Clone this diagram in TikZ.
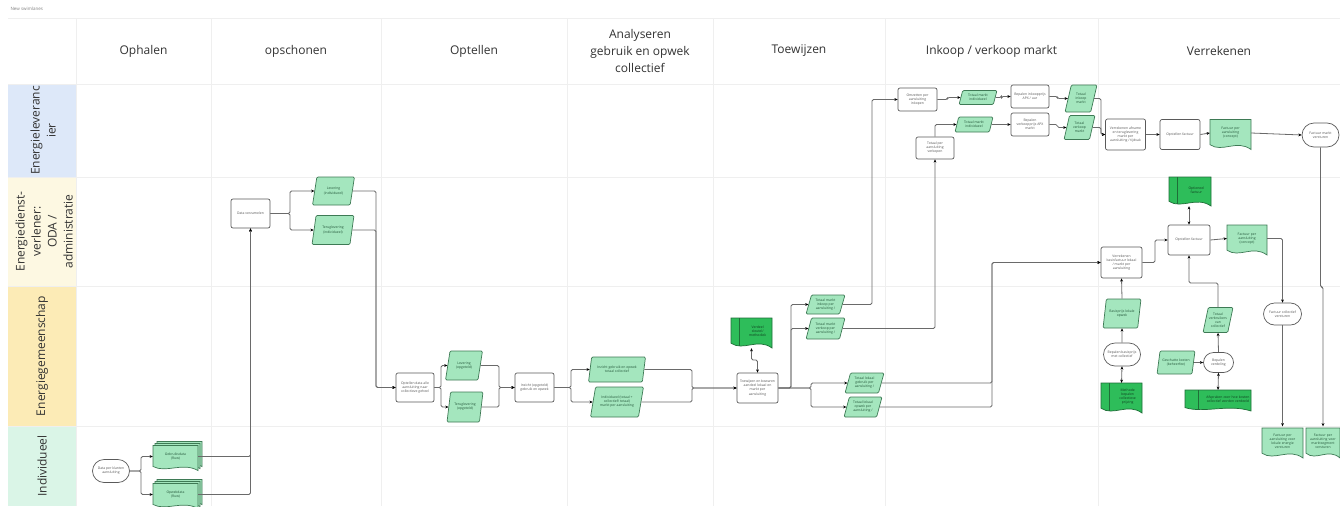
\documentclass[tikz,border=0pt]{standalone}
\usepackage{fontspec}
\setmainfont{Open Sans}
\usetikzlibrary{shapes.geometric,shapes.misc,arrows.meta,calc}
\definecolor{gridc}{HTML}{EFEFEF}
\definecolor{laneA}{HTML}{DDE8F9}
\definecolor{laneB}{HTML}{FDF8E2}
\definecolor{laneC}{HTML}{FCEBB6}
\definecolor{laneD}{HTML}{DAF5E7}
\definecolor{lgreen}{HTML}{A4E6BE}
\definecolor{lgreenD}{HTML}{3E7A55}
\definecolor{dgreen}{HTML}{2EBD5A}
\definecolor{dgreenD}{HTML}{1F6E38}
\definecolor{boxD}{HTML}{5A5A5A}
\definecolor{lineC}{HTML}{6A6A6A}
\definecolor{txtC}{HTML}{555555}
\definecolor{gtxt}{HTML}{24573A}
\definecolor{dtxt}{HTML}{0F3D1E}

\tikzset{
 every node/.style={font=\fontsize{3.4}{4.1}\selectfont},
 >={Stealth[length=3.2pt,width=2.8pt,color=black]},
 hdr/.style={font=\fontsize{12}{17}\selectfont, text=black!80, align=center},
 lanelbl/.style={font=\fontsize{12}{16}\selectfont, text=black!80, align=center, rotate=90},
 proc/.style={draw=boxD, fill=white, rounded corners=2pt, line width=0.7pt, align=center, text=txtC, inner sep=0.5pt},
 term/.style={rounded rectangle, draw=boxD, fill=white, line width=0.7pt, align=center, text=txtC, inner sep=0.5pt},
 para/.style={trapezium, trapezium left angle=72, trapezium right angle=108, trapezium stretches=true, draw=lgreenD, fill=lgreen, line width=0.7pt, rounded corners=1.2pt, align=center, text=gtxt, inner sep=0.5pt},
 doctext/.style={align=center, inner sep=0.5pt},
 lightdoc/.style={draw=lgreenD, fill=lgreen, line width=0.7pt},
 darkdoc/.style={draw=dgreenD, fill=dgreen, line width=0.7pt},
 conn/.style={draw=lineC, line width=0.8pt, rounded corners=1.5pt, ->},
 conntwo/.style={draw=lineC, line width=0.8pt, rounded corners=1.5pt, <->},
 gridline/.style={draw=gridc, line width=0.6pt},
}

% document outline centred at origin: w, h, style
\newcommand\docpath[3]{%
 \draw[#3] (-#1/2,-#2/2) -- (#1/2,-#2/2) -- (#1/2,#2/2)
   .. controls (0.15*#1,#2/2-0.35*#2) and (-0.2*#1,#2/2+0.12*#2) .. (-#1/2,#2/2-0.16*#2) -- cycle;}
% name, cx, cy, w, h, text
\newcommand\lightdocnode[6]{%
 \begin{scope}[shift={(#2,#3)}]\docpath{#4}{#5}{lightdoc}\end{scope}
 \pgfmathsetmacro\tw{#4-5}%
 \node[doctext, text=gtxt, text width=\tw pt, minimum width=#4, minimum height=#5] (#1) at (#2,#3-1.5) {#6};}
\newcommand\darkdocnode[6]{%
 \begin{scope}[shift={(#2,#3)}]\docpath{#4}{#5}{darkdoc}
  \draw[dgreenD, line width=0.7pt] (-0.3*#4,-#5/2) -- (-0.3*#4,0.42*#5);\end{scope}
 \pgfmathsetmacro\tw{0.7*#4-2}%
 \pgfmathsetmacro\cxx{#2+0.15*#4}%
 \node[doctext, text=dtxt, text width=\tw pt] (#1t) at (\cxx,#3-1.5) {#6};
 \node[minimum width=#4, minimum height=#5, inner sep=0pt] (#1) at (#2,#3) {};
 }
\newcommand\stackdocnode[6]{%
 \begin{scope}[shift={(#2+4,#3-4)}]\docpath{#4}{#5}{lightdoc}\end{scope}
 \begin{scope}[shift={(#2+2,#3-2)}]\docpath{#4}{#5}{lightdoc}\end{scope}
 \begin{scope}[shift={(#2,#3)}]\docpath{#4}{#5}{lightdoc}\end{scope}
 \pgfmathsetmacro\tw{#4-5}%
 \node[doctext, text=gtxt, text width=\tw pt, minimum width=#4, minimum height=#5] (#1) at (#2,#3-1.5) {#6};}

\begin{document}
\begin{tikzpicture}[x=1pt,y=-1pt]
\useasboundingbox[fill=white] (0,0) rectangle (1340,506);

% lane label fills
\fill[laneA] (8,84) rectangle (76,177);
\fill[laneB] (8,177) rectangle (76,286);
\fill[laneC] (8,286) rectangle (76,426);
\fill[laneD] (8,426) rectangle (76,506);

% grid
\foreach \yy in {18,84,177,286,426} \draw[gridline] (8,\yy) -- (1340,\yy);
\foreach \xx in {76,211,381,567,713,885,1098} \draw[gridline] (\xx,18) -- (\xx,506);

\node[anchor=west, font=\fontsize{4.5}{5}\selectfont, text=gray] (title) at (7,9) {New swimlanes};

% headers
\node[hdr] (h1) at (143.5,51) {Ophalen};
\node[hdr] (h2) at (296,51) {opschonen};
\node[hdr] (h3) at (474,51) {Optellen};
\node[hdr] (h4) at (640,51) {Analyseren\\gebruik en opwek\\collectief};
\node[hdr] (h5) at (799,51) {Toewijzen};
\node[hdr] (h6) at (991.5,51) {Inkoop / verkoop markt};
\node[hdr] (h7) at (1219,51) {Verrekenen};

% lane labels
\node[lanelbl] (L1) at (43,130.5) {Energieleveranc\\ier};
\node[lanelbl] (L2) at (44,231.5) {Energiedienst-\\verlener:\\ODA /\\administratie};
\node[lanelbl] (L3) at (42,356) {Energiegemeenschap};
\node[lanelbl] (L4) at (42,466) {Individueel};

% Individueel
\node[term, minimum width=38, minimum height=23] (start) at (111,471) {Data per klanten\\aansluiting};
\stackdocnode{stk1}{175.5}{458}{45}{25}{Gebruiksdata\\(Ruw)}
\stackdocnode{stk2}{175.5}{496}{45}{25}{Opwekdata\\(Ruw)}

% opschonen
\node[proc, minimum width=39, minimum height=29] (verz) at (250.5,213.5) {Data verzamelen};
\node[para, minimum width=42, minimum height=28] (levi) at (333.5,191) {Levering\\(individueel)};
\node[para, minimum width=42, minimum height=29] (teri) at (333,230) {Teruglevering\\(individueel)};

% Optellen
\node[proc, minimum width=38, minimum height=29] (opt) at (415,387.5) {Optellen data alle\\aansluiting naar\\collectieve geheel};
\node[para, minimum width=37, minimum height=29] (levo) at (464,365.5) {Levering\\(opgeteld)};
\node[para, minimum width=36, minimum height=30] (tero) at (465,407) {Teruglevering\\(opgeteld)};
\node[proc, minimum width=39, minimum height=29] (inz) at (534.5,387.5) {Inzicht (opgeteld)\\gebruik en opwek};

% Analyseren
\node[para, minimum width=57, minimum height=25] (inzc) at (617,369.5) {Inzicht gebruik en opwek\\totaal collectief};
\node[para, minimum width=53, minimum height=30] (indt) at (617,402) {Individueel (totaal +\\collectief/ totaal)\\markt per aansluiting};

% Toewijzen
\node[proc, minimum width=41, minimum height=30] (toew) at (757.5,388) {Toewijzen en bewaren\\aandeel lokaal en\\markt per\\aansluiting};
\darkdocnode{verd}{751.5}{333}{41}{30}{Verdeel\\sleutel/\\methodiek}
\node[para, minimum width=39, minimum height=19] (mki) at (825.5,304.5) {Totaal markt\\inkoop per\\aansluiting /};
\node[para, minimum width=39, minimum height=21] (mkv) at (825.5,328.5) {Totaal markt\\verkoop per\\aansluiting /};
\node[para, minimum width=39, minimum height=20] (lkg) at (864.5,383) {Totaal lokaal\\gebruik per\\aansluiting /};
\node[para, minimum width=38, minimum height=20] (lko) at (863,407) {Totaal lokaal\\opwek per\\aansluiting /};

% Inkoop / verkoop
\node[proc, minimum width=39, minimum height=23] (ovzi) at (917.5,99.5) {Omzetten per\\aansluiting\\inkopen};
\node[para, minimum width=38, minimum height=14] (mi1) at (978,97.5) {Totaal markt\\individueel};
\node[proc, minimum width=38, minimum height=23] (bepi) at (1030,96.5) {Bepalen inkoopprijs\\APX / uur};
\node[para, minimum width=32, minimum height=27] (ti) at (1081,98.5) {Totaal\\inkoop\\markt};
\node[proc, minimum width=38, minimum height=22] (totv) at (935,148) {Totaal per\\aansluiting\\verkopen};
\node[para, minimum width=38, minimum height=15] (mi2) at (974,124.5) {Totaal markt\\individueel};
\node[proc, minimum width=38, minimum height=23] (bepv) at (1030,124.5) {Bepalen\\verkoopprijs APX\\markt};
\node[para, minimum width=31, minimum height=24] (tv) at (1079.5,127.5) {Totaal\\verkoop\\markt};

% Verrekenen
\node[proc, minimum width=40, minimum height=31] (verm) at (1125.5,134.5) {Verrekenen afname\\en teruglevering\\markt per\\aansluiting / tijdvak};
\node[proc, minimum width=40, minimum height=30] (ops1) at (1180,134.5) {Opstellen factuur};
\lightdocnode{fpa1}{1230.5}{134.5}{41}{30}{Factuur per\\aansluiting\\(concept)}
\node[term, minimum width=38, minimum height=24] (fmv) at (1320.5,135) {Factuur markt\\versturen};
\lightdocnode{fpam}{1323}{443}{34}{30}{Factuur per\\aansluiting voor\\marktsegment\\versturen}
\darkdocnode{optf}{1190}{191.5}{42}{29}{Optioneel\\factuur}
\node[proc, minimum width=42, minimum height=30] (ops2) at (1189,240) {Opstellen factuur};
\node[proc, minimum width=41, minimum height=31] (verl) at (1121.5,262.5) {Verrekenen\\basisfactuur lokaal\\/ markt per\\aansluiting};
\lightdocnode{fpa2}{1247}{240}{40}{30}{Factuur per\\aansluiting\\(concept)}
\node[term, minimum width=39, minimum height=22] (fcv) at (1282.5,314) {Factuur collectief\\versturen};
\lightdocnode{fpal}{1282.5}{443}{41}{30}{Factuur per\\aansluiting voor\\lokale energie\\versturen}
\node[para, minimum width=38, minimum height=29] (bp) at (1122,313.5) {Basisprijs lokale\\opwek};
\node[term, minimum width=38, minimum height=23] (bbc) at (1122,354.5) {Bepalen basisprijs\\met collectief};
\darkdocnode{mbp}{1121.5}{398}{41}{30}{Methode\\bepalen\\collectieve\\prijzing}
\node[para, minimum width=30, minimum height=25] (tvc) at (1218,320) {Totaal\\verbruikers\\van\\collectief};
\node[term, minimum width=31, minimum height=20] (bv) at (1218.5,362.5) {Bepalen\\verdeling};
\node[para, minimum width=38, minimum height=23] (gk) at (1176,362.5) {Geschatte kosten\\(beheerfee)};
\darkdocnode{afs}{1218}{400.5}{66}{21}{Afspraken over hoe kosten\\collectief worden verdeeld}

% bus coordinates
\coordinate (bA) at (141,0);
\coordinate (bB) at (290,0);
\coordinate (bC) at (376,0);
\coordinate (bD) at (441,0);
\coordinate (bE) at (499,0);
\coordinate (bF) at (571,0);
\coordinate (bG) at (692,0);
\coordinate (bH) at (0,360);
\coordinate (bI) at (791,0);
\coordinate (bJ) at (811,0);
\coordinate (bK) at (872,0);
\coordinate (bL) at (992,0);
\coordinate (bM) at (1101,0);
\coordinate (bN) at (0,287);
\coordinate (bO) at (1155,0);
\coordinate (bP) at (0,283);

% connectors
\draw[conn] (start.east) -- (start.east -| bA) |- (stk1.west);
\draw[conn] (start.east) -- (start.east -| bA) |- (stk2.west);
\draw[conn] (stk1.east) -| (verz.south);
\draw[conn] (stk2.east) -| (verz.south);
\draw[conn] (verz.east) -- (verz.east -| bB) |- (levi.west);
\draw[conn] (verz.east) -- (verz.east -| bB) |- (teri.west);
\draw[conn] (levi.east) -| (bC |- opt.west) -- (opt.west);
\draw[conn] (teri.east) -| (bC |- opt.west) -- (opt.west);
\draw[conn] (opt.east) -- (opt.east -| bD) |- (levo.west);
\draw[conn] (opt.east) -- (opt.east -| bD) |- (tero.west);
\draw[conn] (levo.east) -| (bE |- inz.west) -- (inz.west);
\draw[conn] (tero.east) -| (bE |- inz.west) -- (inz.west);
\draw[conn] (inz.east) -- (inz.east -| bF) |- (inzc.west);
\draw[conn] (inz.east) -- (inz.east -| bF) |- (indt.west);
\draw[conn] (inzc.east) -| (bG |- toew.west) -- (toew.west);
\draw[conn] (indt.east) -| (bG |- toew.west) -- (toew.west);
\draw[conntwo] (verd.south) -- (verd.south |- bH) -| (toew.north);
\draw[conn] (toew.east) -- (toew.east -| bI) |- (mki.west);
\draw[conn] (toew.east) -- (toew.east -| bI) |- (mkv.west);
\draw[conn] (toew.east) -- (toew.east -| bJ) |- (lkg.west);
\draw[conn] (toew.east) -- (toew.east -| bJ) |- (lko.west);
\draw[conn] (mki.east) -| (bK |- ovzi.west) -- (ovzi.west);
\draw[conn] (mkv.east) -| (totv.south);
\draw[conn] (lkg.east) -| (bL |- verl.west) -- (verl.west);
\draw[conn] (lko.east) -| (bL |- verl.west) -- (verl.west);
\draw[conn] (ovzi.east) -- ++(10,0) |- (mi1.west);
\draw[conn] (mi1.east) -- ++(6,0) |- (bepi.west);
\draw[conn] (bepi.east) -- ++(8,0) |- (ti.west);
\draw[conn] (totv.north) |- (mi2.west);
\draw[conn] (mi2.east) -- (bepv.west);
\draw[conn] (bepv.east) -- ++(8,0) |- (tv.west);
\draw[conn] (ti.east) -| (bM |- verm.west) -- (verm.west);
\draw[conn] (tv.east) -| (bM |- verm.west) -- (verm.west);
\draw[conn] (verm.east) -- (ops1.west);
\draw[conn] (ops1.east) -- (fpa1.west);
\draw[conn] (fpa1.east) -- (fmv.west);
\draw[conn] (fmv.south) -- (fmv.south |- bN) -| (fpam.north);
\draw[conntwo] (ops2.north |- optf.south) -- (ops2.north);
\draw[conn] (verl.east) -- (verl.east -| bO) |- (ops2.west);
\draw[conn] (ops2.east) -- (fpa2.west);
\draw[conn] (fpa2.east) -| (fcv.north);
\draw[conn] (fcv.south) -- (fpal.north);
\draw[conn] (bp.north) -- (verl.south);
\draw[conn] (bbc.north) -- (bp.south);
\draw[conntwo] (bbc.south) -- (mbp.north);
\draw[conn] (tvc.north) -- (tvc.north |- bP) -| (ops2.south);
\draw[conn] (bv.north) -- (tvc.south);
\draw[conn] (gk.east) -- (bv.west);
\draw[conntwo] (bv.south) -- (afs.north);
\end{tikzpicture}
\end{document}
